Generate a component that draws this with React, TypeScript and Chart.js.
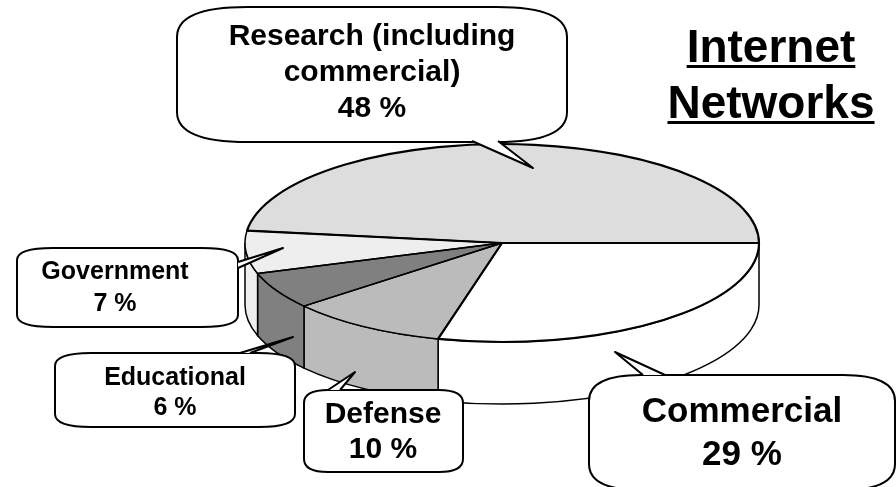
import React, { useEffect, useRef } from "react";
import { Chart, registerables } from "chart.js";

Chart.register(...registerables);

const categories = ["Commercial", "Defense", "Educational", "Government", "Research (including commercial)"];
const shares = [29, 10, 6, 7, 48];
const sliceColors = ["#ffffff", "#bbbbbb", "#808080", "#eeeeee", "#dddddd"];

const CX = 502, CY = 243, RX = 257, RY = 99, DEPTH = 62;
const FONT = '"Liberation Sans", Arial, sans-serif';

type Callout = {
  x0: number; y0: number; x1: number; y1: number; rx: number; ry: number;
  a: [number, number]; tip: [number, number]; b: [number, number];
  cx: number; size: number; lines: [string, number][];
};

const callouts: Callout[] = [
  { x0: 177, y0: 7, x1: 567, y1: 142, rx: 70, ry: 30, a: [472, 141], tip: [533, 168], b: [498, 141], cx: 372, size: 30,
    lines: [["Research (including", 45], ["commercial)", 81], ["48 %", 117]] },
  { x0: 17, y0: 248, x1: 238, y1: 327, rx: 36, ry: 12, a: [238, 262], tip: [283, 248], b: [238, 268], cx: 115, size: 25,
    lines: [["Government", 279], ["7 %", 311]] },
  { x0: 55, y0: 353, x1: 295, y1: 427, rx: 36, ry: 13, a: [240, 353], tip: [293, 337], b: [250, 353], cx: 175, size: 25,
    lines: [["Educational", 385], ["6 %", 415]] },
  { x0: 304, y0: 390, x1: 463, y1: 472, rx: 24, ry: 13, a: [328, 390], tip: [355, 372], b: [340, 390], cx: 383, size: 30,
    lines: [["Defense", 423], ["10 %", 458]] },
  { x0: 589, y0: 375, x1: 895, y1: 490, rx: 52, ry: 26, a: [643, 375], tip: [615, 352], b: [665, 375], cx: 742, size: 35,
    lines: [["Commercial", 422], ["29 %", 465]] },
];

function roundedBox(ctx: CanvasRenderingContext2D, c: Callout) {
  const { x0, y0, x1, y1, rx, ry } = c;
  ctx.beginPath();
  ctx.moveTo(x0 + rx, y0);
  ctx.lineTo(x1 - rx, y0);
  ctx.quadraticCurveTo(x1, y0, x1, y0 + ry);
  ctx.lineTo(x1, y1 - ry);
  ctx.quadraticCurveTo(x1, y1, x1 - rx, y1);
  ctx.lineTo(x0 + rx, y1);
  ctx.quadraticCurveTo(x0, y1, x0, y1 - ry);
  ctx.lineTo(x0, y0 + ry);
  ctx.quadraticCurveTo(x0, y0, x0 + rx, y0);
  ctx.closePath();
}

const piePlugin = {
  id: "tiltedPie",
  beforeDatasetsDraw(chart: any) {
    const ctx: CanvasRenderingContext2D = chart.ctx;
    const arcs = chart.getDatasetMeta(0).data;
    ctx.save();
    ctx.lineWidth = 1.5;
    ctx.strokeStyle = "#000";
    for (const arc of arcs) {
      const a0 = Math.max(arc.startAngle, 0);
      const a1 = Math.min(arc.endAngle, Math.PI);
      if (a1 <= a0) continue;
      ctx.beginPath();
      ctx.ellipse(CX, CY, RX, RY, 0, a0, a1);
      ctx.ellipse(CX, CY + DEPTH, RX, RY, 0, a1, a0, true);
      ctx.closePath();
      ctx.fillStyle = arc.options.backgroundColor;
      ctx.fill();
      ctx.stroke();
    }
    ctx.restore();
  },
  beforeDatasetDraw(chart: any) {
    const ctx: CanvasRenderingContext2D = chart.ctx;
    const arc = chart.getDatasetMeta(0).data[0];
    const r = arc.outerRadius;
    ctx.save();
    ctx.translate(CX, CY);
    ctx.scale(RX / r, RY / r);
    ctx.translate(-arc.x, -arc.y);
  },
  afterDatasetDraw(chart: any) {
    chart.ctx.restore();
  },
  afterDatasetsDraw(chart: any) {
    const ctx: CanvasRenderingContext2D = chart.ctx;
    const arcs = chart.getDatasetMeta(0).data;
    ctx.save();
    ctx.strokeStyle = "#000";
    ctx.lineJoin = "round";
    arcs.forEach((arc: any, i: number) => {
      ctx.lineWidth = i === 0 || i === 4 ? 2.2 : 1.5;
      ctx.beginPath();
      ctx.moveTo(CX, CY);
      ctx.ellipse(CX, CY, RX, RY, 0, arc.startAngle, arc.endAngle);
      ctx.closePath();
      ctx.stroke();
    });

    for (const c of callouts) {
      roundedBox(ctx, c);
      ctx.fillStyle = "#fff";
      ctx.fill();
      ctx.lineWidth = 2;
      ctx.stroke();
      ctx.beginPath();
      ctx.moveTo(c.a[0], c.a[1]);
      ctx.lineTo(c.tip[0], c.tip[1]);
      ctx.lineTo(c.b[0], c.b[1]);
      ctx.closePath();
      ctx.fill();
      ctx.beginPath();
      ctx.moveTo(c.a[0], c.a[1]);
      ctx.lineTo(c.tip[0], c.tip[1]);
      ctx.lineTo(c.b[0], c.b[1]);
      ctx.stroke();
      ctx.fillStyle = "#000";
      ctx.font = `bold ${c.size}px ${FONT}`;
      ctx.textAlign = "center";
      ctx.textBaseline = "alphabetic";
      for (const [t, y] of c.lines) ctx.fillText(t, c.cx, y);
    }

    ctx.fillStyle = "#000";
    ctx.font = `bold 46px ${FONT}`;
    ctx.textAlign = "center";
    for (const [t, y] of [["Internet", 62], ["Networks", 118]] as [string, number][]) {
      ctx.fillText(t, 771, y);
      const w = ctx.measureText(t).width;
      ctx.fillRect(771 - w / 2, y + 3, w, 3);
    }
    ctx.restore();
  },
};

export default function App() {
  const ref = useRef<HTMLCanvasElement>(null);
  useEffect(() => {
    document.body.style.margin = "0";
    const chart = new Chart(ref.current!, {
      type: "pie",
      data: {
        labels: categories,
        datasets: [{ data: shares, backgroundColor: sliceColors, borderWidth: 0, clip: false } as any],
      },
      options: {
        responsive: false,
        animation: false,
        rotation: 90,
        plugins: { legend: { display: false }, tooltip: { enabled: false } },
      },
      plugins: [piePlugin as any],
    });
    return () => chart.destroy();
  }, []);
  return <canvas ref={ref} width={896} height={487} style={{ display: "block" }} />;
}
